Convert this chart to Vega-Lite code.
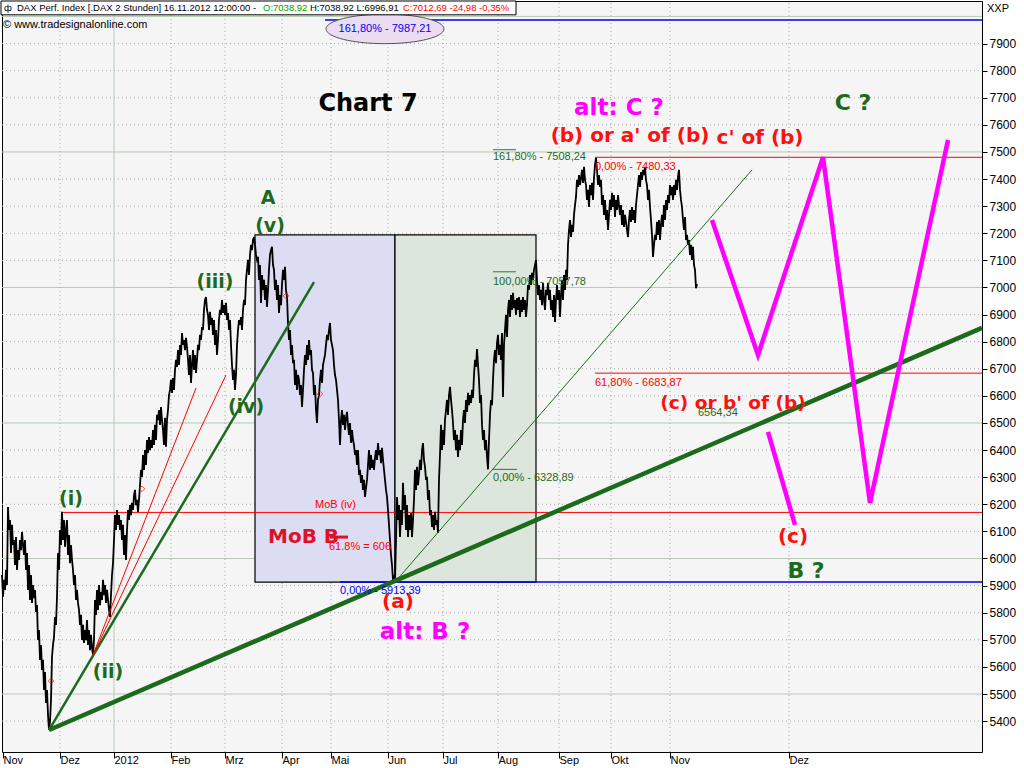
{
"$schema":"https://vega.github.io/schema/vega-lite/v6.json",
"width":980,"height":751,"autosize":{"type":"none"},
"padding":{"left":2,"top":1,"right":42,"bottom":16},
"background":"white",
"view":{"fill":"#f5f5f5","stroke":"black","strokeWidth":1},
"config":{"text":{"font":"Liberation Sans"}},
"datasets":{
"price":[{"i":2,"v":5939},{"i":3,"v":5858},{"i":4,"v":5921},{"i":5,"v":5884},{"i":6,"v":5958},{"i":7,"v":5902},{"i":8,"v":6190},{"i":9,"v":6105},{"i":10,"v":6142},{"i":11,"v":6020},{"i":12,"v":6124},{"i":13,"v":6050},{"i":14,"v":6068},{"i":15,"v":5976},{"i":16,"v":6079},{"i":17,"v":5958},{"i":18,"v":6031},{"i":19,"v":5995},{"i":20,"v":6068},{"i":21,"v":6031},{"i":22,"v":6098},{"i":23,"v":6050},{"i":24,"v":6013},{"i":25,"v":6068},{"i":26,"v":5958},{"i":27,"v":6020},{"i":28,"v":5884},{"i":29,"v":5976},{"i":30,"v":5847},{"i":31,"v":5939},{"i":32,"v":5836},{"i":33,"v":5902},{"i":34,"v":5854},{"i":35,"v":5884},{"i":36,"v":5803},{"i":37,"v":5828},{"i":38,"v":5699},{"i":39,"v":5736},{"i":40,"v":5626},{"i":41,"v":5681},{"i":42,"v":5589},{"i":43,"v":5626},{"i":44,"v":5515},{"i":45,"v":5581},{"i":46,"v":5467},{"i":47,"v":5515},{"i":48,"v":5423},{"i":49,"v":5367},{"i":50,"v":5397},{"i":51,"v":5478},{"i":52,"v":5637},{"i":53,"v":5681},{"i":54,"v":5710},{"i":55,"v":5784},{"i":56,"v":5755},{"i":57,"v":5858},{"i":58,"v":6020},{"i":59,"v":5958},{"i":60,"v":6105},{"i":61,"v":6050},{"i":62,"v":6172},{"i":63,"v":6068},{"i":64,"v":6142},{"i":65,"v":6043},{"i":66,"v":6105},{"i":67,"v":6142},{"i":68,"v":6013},{"i":69,"v":6087},{"i":70,"v":5983},{"i":71,"v":6050},{"i":72,"v":5995},{"i":73,"v":5958},{"i":74,"v":5902},{"i":75,"v":5939},{"i":76,"v":5847},{"i":77,"v":5884},{"i":78,"v":5836},{"i":79,"v":5810},{"i":80,"v":5755},{"i":81,"v":5792},{"i":82,"v":5699},{"i":83,"v":5755},{"i":84,"v":5688},{"i":85,"v":5736},{"i":86,"v":5699},{"i":87,"v":5773},{"i":88,"v":5681},{"i":89,"v":5736},{"i":90,"v":5662},{"i":91,"v":5718},{"i":92,"v":5670},{"i":93,"v":5644},{"i":94,"v":5699},{"i":95,"v":5847},{"i":96,"v":5792},{"i":97,"v":5884},{"i":98,"v":5810},{"i":99,"v":5902},{"i":100,"v":5828},{"i":101,"v":5876},{"i":102,"v":5847},{"i":103,"v":5921},{"i":104,"v":5865},{"i":105,"v":5902},{"i":106,"v":5836},{"i":107,"v":5884},{"i":108,"v":5847},{"i":109,"v":5810},{"i":110,"v":5784},{"i":111,"v":5865},{"i":112,"v":5939},{"i":113,"v":5983},{"i":114,"v":6068},{"i":115,"v":6160},{"i":116,"v":6105},{"i":117,"v":6179},{"i":118,"v":6124},{"i":119,"v":6160},{"i":120,"v":6105},{"i":121,"v":6142},{"i":122,"v":6068},{"i":123,"v":6124},{"i":124,"v":6013},{"i":125,"v":6087},{"i":126,"v":5995},{"i":127,"v":6105},{"i":128,"v":6179},{"i":129,"v":6142},{"i":130,"v":6197},
{"i":131,"v":6160},{"i":132,"v":6205},{"i":133,"v":6179},{"i":134,"v":6234},{"i":135,"v":6253},{"i":136,"v":6197},{"i":137,"v":6216},{"i":138,"v":6172},{"i":139,"v":6216},{"i":140,"v":6271},{"i":141,"v":6327},{"i":142,"v":6301},{"i":143,"v":6382},{"i":144,"v":6327},{"i":145,"v":6400},{"i":146,"v":6345},{"i":147,"v":6437},{"i":148,"v":6389},{"i":149,"v":6448},{"i":150,"v":6400},{"i":151,"v":6437},{"i":152,"v":6408},{"i":153,"v":6474},{"i":154,"v":6419},{"i":155,"v":6493},{"i":156,"v":6437},{"i":157,"v":6530},{"i":158,"v":6511},{"i":159,"v":6548},{"i":160,"v":6493},{"i":161,"v":6559},{"i":162,"v":6511},{"i":163,"v":6474},{"i":164,"v":6419},{"i":165,"v":6519},{"i":166,"v":6412},{"i":167,"v":6511},{"i":168,"v":6548},{"i":169,"v":6603},{"i":170,"v":6622},{"i":171,"v":6659},{"i":172,"v":6611},{"i":173,"v":6666},{"i":174,"v":6622},{"i":175,"v":6696},{"i":176,"v":6733},{"i":177,"v":6707},{"i":178,"v":6769},{"i":179,"v":6714},{"i":180,"v":6788},{"i":181,"v":6751},{"i":182,"v":6832},{"i":183,"v":6788},{"i":184,"v":6806},{"i":185,"v":6769},{"i":186,"v":6814},{"i":187,"v":6781},{"i":188,"v":6733},{"i":189,"v":6677},{"i":190,"v":6751},{"i":191,"v":6648},{"i":192,"v":6714},{"i":193,"v":6769},{"i":194,"v":6696},{"i":195,"v":6751},{"i":196,"v":6685},{"i":197,"v":6733},{"i":198,"v":6788},{"i":199,"v":6769},{"i":200,"v":6825},{"i":201,"v":6806},{"i":202,"v":6854},{"i":203,"v":6843},{"i":204,"v":6917},{"i":205,"v":6954},{"i":206,"v":6965},{"i":207,"v":6917},{"i":208,"v":6899},{"i":209,"v":6843},{"i":210,"v":6910},{"i":211,"v":6862},{"i":212,"v":6888},{"i":213,"v":6825},{"i":214,"v":6880},{"i":215,"v":6788},{"i":216,"v":6843},{"i":217,"v":6751},{"i":218,"v":6806},{"i":219,"v":6880},{"i":220,"v":6917},{"i":221,"v":6899},{"i":222,"v":6954},{"i":223,"v":6906},{"i":224,"v":6935},{"i":225,"v":6899},{"i":226,"v":6943},{"i":227,"v":6880},{"i":228,"v":6906},{"i":229,"v":6843},{"i":230,"v":6880},{"i":231,"v":6788},{"i":232,"v":6714},{"i":233,"v":6659},{"i":234,"v":6696},{"i":235,"v":6622},{"i":236,"v":6677},{"i":237,"v":6788},{"i":238,"v":6843},{"i":239,"v":6880},{"i":240,"v":6862},{"i":241,"v":6891},{"i":242,"v":6843},{"i":243,"v":6917},{"i":244,"v":6954},{"i":245,"v":6935},{"i":246,"v":7028},{"i":247,"v":7065},{"i":248,"v":7102},{"i":249,"v":7046},{"i":250,"v":7120},{"i":251,"v":7157},{"i":252,"v":7138},{"i":253,"v":7175},{"i":254,"v":7186},{"i":255,"v":7157},
{"i":256,"v":7120},{"i":257,"v":7102},{"i":258,"v":7113},{"i":259,"v":7028},{"i":260,"v":7083},{"i":261,"v":6943},{"i":262,"v":7046},{"i":263,"v":6991},{"i":264,"v":7028},{"i":265,"v":6954},{"i":266,"v":7009},{"i":267,"v":6928},{"i":268,"v":6991},{"i":269,"v":7065},{"i":270,"v":7120},{"i":271,"v":7138},{"i":272,"v":7150},{"i":273,"v":7083},{"i":274,"v":7065},{"i":275,"v":6991},{"i":276,"v":7028},{"i":277,"v":6954},{"i":278,"v":7009},{"i":279,"v":6906},{"i":280,"v":6972},{"i":281,"v":6935},{"i":282,"v":7009},{"i":283,"v":7065},{"i":284,"v":7028},{"i":285,"v":7076},{"i":286,"v":6991},{"i":287,"v":6965},{"i":288,"v":6869},{"i":289,"v":6806},{"i":290,"v":6843},{"i":291,"v":6751},{"i":292,"v":6788},{"i":293,"v":6721},{"i":294,"v":6733},{"i":295,"v":6640},{"i":296,"v":6696},{"i":297,"v":6622},{"i":298,"v":6677},{"i":299,"v":6659},{"i":300,"v":6603},{"i":301,"v":6640},{"i":302,"v":6559},{"i":303,"v":6622},{"i":304,"v":6696},{"i":305,"v":6751},{"i":306,"v":6714},{"i":307,"v":6788},{"i":308,"v":6733},{"i":309,"v":6806},{"i":310,"v":6751},{"i":311,"v":6769},{"i":312,"v":6696},{"i":313,"v":6685},{"i":314,"v":6603},{"i":315,"v":6640},{"i":316,"v":6548},{"i":317,"v":6500},{"i":318,"v":6585},{"i":319,"v":6603},{"i":320,"v":6659},{"i":321,"v":6696},{"i":322,"v":6648},{"i":323,"v":6714},{"i":324,"v":6733},{"i":325,"v":6751},{"i":326,"v":6788},{"i":327,"v":6825},{"i":328,"v":6806},{"i":329,"v":6843},{"i":330,"v":6869},{"i":331,"v":6806},{"i":332,"v":6788},{"i":333,"v":6769},{"i":334,"v":6714},{"i":335,"v":6677},{"i":336,"v":6659},{"i":337,"v":6622},{"i":338,"v":6585},{"i":339,"v":6511},{"i":340,"v":6419},{"i":341,"v":6511},{"i":342,"v":6548},{"i":343,"v":6493},{"i":344,"v":6530},{"i":345,"v":6474},{"i":346,"v":6519},{"i":347,"v":6541},{"i":348,"v":6493},{"i":349,"v":6456},{"i":350,"v":6500},{"i":351,"v":6426},{"i":352,"v":6474},{"i":353,"v":6437},{"i":354,"v":6419},{"i":355,"v":6382},{"i":356,"v":6400},{"i":357,"v":6345},{"i":358,"v":6400},{"i":359,"v":6308},{"i":360,"v":6327},{"i":361,"v":6279},{"i":362,"v":6308},{"i":363,"v":6253},{"i":364,"v":6290},{"i":365,"v":6227},{"i":366,"v":6260},{"i":367,"v":6290},{"i":368,"v":6345},{"i":369,"v":6400},{"i":370,"v":6327},{"i":371,"v":6382},{"i":372,"v":6334},{"i":373,"v":6364},{"i":374,"v":6327},{"i":375,"v":6371},{"i":376,"v":6400},{"i":377,"v":6364},{"i":378,"v":6426},{"i":379,"v":6382},{"i":380,"v":6400},{"i":381,"v":6352},{"i":382,"v":6408},{"i":383,"v":6364},{"i":384,"v":6327},{"i":385,"v":6290},{"i":386,"v":6253},{"i":387,"v":6227},{"i":388,"v":6179},{"i":389,"v":6124},{"i":390,"v":6068},{"i":391,"v":6013},{"i":392,"v":5976},{"i":393,"v":5921},{"i":394,"v":5939},{"i":395,"v":5913},
{"i":396,"v":6068},{"i":397,"v":6227},{"i":398,"v":6142},{"i":399,"v":6197},{"i":400,"v":6079},{"i":401,"v":6179},{"i":402,"v":6124},{"i":403,"v":6279},{"i":404,"v":6179},{"i":405,"v":6234},{"i":406,"v":6105},{"i":407,"v":6197},{"i":408,"v":6079},{"i":409,"v":6160},{"i":410,"v":6105},{"i":411,"v":6168},{"i":412,"v":6079},{"i":413,"v":6142},{"i":414,"v":6216},{"i":415,"v":6327},{"i":416,"v":6253},{"i":417,"v":6338},{"i":418,"v":6271},{"i":419,"v":6308},{"i":420,"v":6364},{"i":421,"v":6327},{"i":422,"v":6400},{"i":423,"v":6426},{"i":424,"v":6364},{"i":425,"v":6338},{"i":426,"v":6290},{"i":427,"v":6301},{"i":428,"v":6216},{"i":429,"v":6253},{"i":430,"v":6160},{"i":431,"v":6179},{"i":432,"v":6116},{"i":433,"v":6160},{"i":434,"v":6105},{"i":435,"v":6172},{"i":436,"v":6124},{"i":437,"v":6142},{"i":438,"v":6094},{"i":439,"v":6290},{"i":440,"v":6382},{"i":441,"v":6493},{"i":442,"v":6400},{"i":443,"v":6474},{"i":444,"v":6419},{"i":445,"v":6511},{"i":446,"v":6548},{"i":447,"v":6585},{"i":448,"v":6530},{"i":449,"v":6603},{"i":450,"v":6633},{"i":451,"v":6585},{"i":452,"v":6548},{"i":453,"v":6500},{"i":454,"v":6437},{"i":455,"v":6474},{"i":456,"v":6400},{"i":457,"v":6456},{"i":458,"v":6375},{"i":459,"v":6437},{"i":460,"v":6400},{"i":461,"v":6474},{"i":462,"v":6419},{"i":463,"v":6511},{"i":464,"v":6548},{"i":465,"v":6500},{"i":466,"v":6585},{"i":467,"v":6541},{"i":468,"v":6611},{"i":469,"v":6566},{"i":470,"v":6603},{"i":471,"v":6574},{"i":472,"v":6622},{"i":473,"v":6592},{"i":474,"v":6677},{"i":475,"v":6733},{"i":476,"v":6707},{"i":477,"v":6773},{"i":478,"v":6714},{"i":479,"v":6659},{"i":480,"v":6574},{"i":481,"v":6603},{"i":482,"v":6493},{"i":483,"v":6437},{"i":484,"v":6474},{"i":485,"v":6400},{"i":486,"v":6437},{"i":487,"v":6375},{"i":488,"v":6329},{"i":489,"v":6437},{"i":490,"v":6530},{"i":491,"v":6585},{"i":492,"v":6566},{"i":493,"v":6659},{"i":494,"v":6733},{"i":495,"v":6769},{"i":496,"v":6721},{"i":497,"v":6795},{"i":498,"v":6825},{"i":499,"v":6751},{"i":500,"v":6788},{"i":501,"v":6733},{"i":502,"v":6832},{"i":503,"v":6596},{"i":504,"v":6788},{"i":505,"v":6843},{"i":506,"v":6899},{"i":507,"v":6817},{"i":508,"v":6917},{"i":509,"v":6954},{"i":510,"v":6891},{"i":511,"v":6972},{"i":512,"v":6917},{"i":513,"v":6980},{"i":514,"v":6924},{"i":515,"v":6954},{"i":516,"v":6899},{"i":517,"v":6961},{"i":518,"v":6917},{"i":519,"v":6965},{"i":520,"v":6891},{"i":521,"v":6954},{"i":522,"v":6910},{"i":523,"v":6965},{"i":524,"v":6917},{"i":525,"v":6954},{"i":526,"v":6891},{"i":527,"v":6935},{"i":528,"v":7009},{"i":529,"v":6991},{"i":530,"v":7046},{"i":531,"v":7009},{"i":532,"v":7054},{"i":533,"v":7028},{"i":534,"v":7065},{"i":535,"v":7083},{"i":536,"v":7102},{"i":537,"v":7028},{"i":538,"v":6972},{"i":539,"v":7009},{"i":540,"v":6954},{"i":541,"v":6991},{"i":542,"v":6935},{"i":543,"v":7017},{"i":544,"v":6954},{"i":545,"v":6917},{"i":546,"v":6991},{"i":547,"v":6972},{"i":548,"v":7017},{"i":549,"v":6954},{"i":550,"v":6991},{"i":551,"v":6917},{"i":552,"v":6954},{"i":553,"v":6891},{"i":554,"v":6972},{"i":555,"v":6873},{"i":556,"v":6954},{"i":557,"v":7009},{"i":558,"v":6954},{"i":559,"v":6991},{"i":560,"v":6891},{"i":561,"v":6972},{"i":562,"v":7028},{"i":563,"v":6954},{"i":564,"v":7046},{"i":565,"v":6991},{"i":566,"v":7065},{"i":567,"v":7028},{"i":568,"v":7157},{"i":569,"v":7212},{"i":570,"v":7249},{"i":571,"v":7186},{"i":572,"v":7231},{"i":573,"v":7205},{"i":574,"v":7268},{"i":575,"v":7304},{"i":576,"v":7334},{"i":577,"v":7397},{"i":578,"v":7371},{"i":579,"v":7415},{"i":580,"v":7378},{"i":581,"v":7404},{"i":582,"v":7434},{"i":583,"v":7386},{"i":584,"v":7445},{"i":585,"v":7397},{"i":586,"v":7378},{"i":587,"v":7323},{"i":588,"v":7360},{"i":589,"v":7297},{"i":590,"v":7378},{"i":591,"v":7341},{"i":592,"v":7386},{"i":593,"v":7323},{"i":594,"v":7404},{"i":595,"v":7452},{"i":596,"v":7478},{"i":597,"v":7434},{"i":598,"v":7378},{"i":599,"v":7415},{"i":600,"v":7371},{"i":601,"v":7397},{"i":602,"v":7304},{"i":603,"v":7341},{"i":604,"v":7268},{"i":605,"v":7323},{"i":606,"v":7249},{"i":607,"v":7286},{"i":608,"v":7212},{"i":609,"v":7268},{"i":610,"v":7323},{"i":611,"v":7286},{"i":612,"v":7349},{"i":613,"v":7297},{"i":614,"v":7341},{"i":615,"v":7260},{"i":616,"v":7323},{"i":617,"v":7286},{"i":618,"v":7341},{"i":619,"v":7304},{"i":620,"v":7268},{"i":621,"v":7304},{"i":622,"v":7231},{"i":623,"v":7286},{"i":624,"v":7223},{"i":625,"v":7268},{"i":626,"v":7242},{"i":627,"v":7212},{"i":628,"v":7186},{"i":629,"v":7249},{"i":630,"v":7286},{"i":631,"v":7242},{"i":632,"v":7297},{"i":633,"v":7249},{"i":634,"v":7286},{"i":635,"v":7238},{"i":636,"v":7304},{"i":637,"v":7341},{"i":638,"v":7378},{"i":639,"v":7415},{"i":640,"v":7371},{"i":641,"v":7426},{"i":642,"v":7397},{"i":643,"v":7434},{"i":644,"v":7415},{"i":645,"v":7445},{"i":646,"v":7397},{"i":647,"v":7378},{"i":648,"v":7323},{"i":649,"v":7360},{"i":650,"v":7297},{"i":651,"v":7249},{"i":652,"v":7194},{"i":653,"v":7113},{"i":654,"v":7157},{"i":655,"v":7194},{"i":656,"v":7175},{"i":657,"v":7242},{"i":658,"v":7194},{"i":659,"v":7249},{"i":660,"v":7175},{"i":661,"v":7231},{"i":662,"v":7268},{"i":663,"v":7223},{"i":664,"v":7304},{"i":665,"v":7249},{"i":666,"v":7323},{"i":667,"v":7286},{"i":668,"v":7341},{"i":669,"v":7312},{"i":670,"v":7378},{"i":671,"v":7341},{"i":672,"v":7371},{"i":673,"v":7323},{"i":674,"v":7378},{"i":675,"v":7341},{"i":676,"v":7397},{"i":677,"v":7360},{"i":678,"v":7408},{"i":679,"v":7434},{"i":680,"v":7360},{"i":681,"v":7323},{"i":682,"v":7297},{"i":683,"v":7249},{"i":684,"v":7212},{"i":685,"v":7260},{"i":686,"v":7175},{"i":687,"v":7194},{"i":688,"v":7157},{"i":689,"v":7175},{"i":690,"v":7120},{"i":691,"v":7157},{"i":692,"v":7102},{"i":693,"v":7150},{"i":694,"v":7083},{"i":695,"v":7065},{"i":696,"v":6997},{"i":697,"v":7013}],
"hminor":[{"i":2,"i2":982,"v":5400},{"i":2,"i2":982,"v":5600},{"i":2,"i2":982,"v":5700},{"i":2,"i2":982,"v":5800},{"i":2,"i2":982,"v":5900},{"i":2,"i2":982,"v":6100},{"i":2,"i2":982,"v":6200},{"i":2,"i2":982,"v":6300},{"i":2,"i2":982,"v":6400},{"i":2,"i2":982,"v":6600},{"i":2,"i2":982,"v":6700},{"i":2,"i2":982,"v":6800},{"i":2,"i2":982,"v":6900},{"i":2,"i2":982,"v":7100},{"i":2,"i2":982,"v":7200},{"i":2,"i2":982,"v":7300},{"i":2,"i2":982,"v":7400},{"i":2,"i2":982,"v":7600},{"i":2,"i2":982,"v":7700},{"i":2,"i2":982,"v":7800},{"i":2,"i2":982,"v":7900}],
"hmajor":[{"i":2,"i2":982,"v":5500},{"i":2,"i2":982,"v":6000},{"i":2,"i2":982,"v":6500},{"i":2,"i2":982,"v":7000},{"i":2,"i2":982,"v":7500},{"i":2,"i2":982,"v":8000}],
"vminor":[{"i":60,"v":5286,"v2":8057},{"i":171,"v":5286,"v2":8057},{"i":225,"v":5286,"v2":8057},{"i":282,"v":5286,"v2":8057},{"i":331,"v":5286,"v2":8057},{"i":388,"v":5286,"v2":8057},{"i":443,"v":5286,"v2":8057},{"i":498,"v":5286,"v2":8057},{"i":559,"v":5286,"v2":8057},{"i":611,"v":5286,"v2":8057},{"i":670,"v":5286,"v2":8057},{"i":789,"v":5286,"v2":8057}],
"vmajor":[{"i":114,"v":5286,"v2":8057}],
"rectB":[{"i":255,"i2":395,"v":5913,"v2":7194}],
"rectG":[{"i":395,"i2":536,"v":5913,"v2":7194}],
"hred":[{"i":62,"i2":982,"v":6170},{"i":595,"i2":982,"v":7480.33},{"i":595,"i2":982,"v":6683.87}],
"hblue":[{"i":340,"i2":982,"v":5913.39},{"i":325,"i2":982,"v":7987.21}],
"mobline":[{"i":330,"i2":348,"v":6079}],
"fibg":[{"i":493,"i2":516,"v":7508.24},{"i":493,"i2":516,"v":7057.78},{"i":493,"i2":517,"v":6328.89}],
"trendThick":[{"i":49,"v":5367,"i2":982,"v2":6851}],
"trendMed":[{"i":49,"v":5367,"i2":314,"v2":7020}],
"trendThin":[{"i":395,"v":5913,"i2":752,"v2":7434}],
"trendRed":[{"i":93,"v":5644,"i2":196,"v2":6629},{"i":93,"v":5644,"i2":226,"v2":6677}],
"magenta":[{"s":1,"o":1,"i":712,"v":7249},{"s":1,"o":2,"i":758,"v":6751},{"s":1,"o":3,"i":823,"v":7481},{"s":1,"o":4,"i":870,"v":6205},{"s":1,"o":5,"i":948,"v":7544},{"s":2,"o":1,"i":768,"v":6467},{"s":2,"o":2,"i":795,"v":6124}],
"diamonds":[{"i":51,"v":5548},{"i":142,"v":6257},{"i":286,"v":6969},{"i":320,"v":6607}],
"tChart":[{"i":368,"v":7677,"t":"Chart 7"}],
"tGreen":[{"i":268,"v":7330,"t":"A"},{"i":270,"v":7227,"t":"(v)"},{"i":215,"v":7020,"t":"(iii)"},{"i":246,"v":6559,"t":"(iv)"},{"i":71,"v":6220,"t":"(i)"},{"i":108,"v":5581,"t":"(ii)"}],
"tGreenBig":[{"i":853,"v":7681,"t":"C ?"},{"i":806,"v":5954,"t":"B ?"}],
"tRed":[{"i":630,"v":7559,"t":"(b) or a' of (b)"},{"i":760,"v":7552,"t":"c' of (b)"},{"i":793,"v":6079,"t":"(c)"},{"i":398,"v":5840,"t":"(a)"}],
"tRed2":[{"i":733,"v":6574,"t":"(c) or b' of (b)"}],
"tMag":[{"i":619,"v":7662,"t":"alt: C ?"},{"i":425,"v":5729,"t":"alt: B ?"}],
"tMoB":[{"i":268,"v":6079,"t":"MoB B"}],
"tSmallGreen":[{"i":493,"v":7482,"t":"161,80% - 7508,24"},{"i":493,"v":7020,"t":"100,00% - 7057,78"},{"i":493,"v":6297,"t":"0,00% - 6328,89"},{"i":698,"v":6537,"t":"6564,34"}],
"tSmallRed":[{"i":595,"v":7445,"t":"0,00% - 7480,33"},{"i":595,"v":6648,"t":"61,80% - 6683,87"},{"i":315,"v":6197,"t":"MoB (iv)"},{"i":329,"v":6042,"t":"61.8% = 606"}],
"tSmallBlue":[{"i":340,"v":5880,"t":"0,00% - 5913,39"}],
"ellipse":[{"i":385,"v":7954,"t":"161,80% - 7987,21"}],
"hdrBox":[{"i":1,"i2":516,"v":8006,"v2":8057}],
"hdrBlack":[{"i":4,"v":8031,"t":"ф"},{"i":17,"v":8031,"t":"DAX Perf. Index [.DAX  2 Stunden] 16.11.2012 12:00:00 -"},{"i":310,"v":8031,"t":"H:7038,92 L:6996,91"}],
"hdrBlack2":[{"i":3,"v":7969,"t":"© www.tradesignalonline.com"},{"i":987,"v":8028,"t":"XXP"}],
"hdrGreen":[{"i":263,"v":8031,"t":"O:7038,92"}],
"hdrRed":[{"i":403,"v":8031,"t":"C:7012,69 -24,98 -0,35%"}]
},
"encoding":{
 "x":{"field":"i","type":"quantitative","scale":{"domain":[2,982],"nice":false,"zero":false},
   "axis":{"title":null,"grid":false,"domain":false,"values":[3,60,114,171,225,282,331,388,443,498,559,611,670,789],
   "labelExpr":"['Nov','Dez','2012','Feb','Mrz','Apr','Mai','Jun','Jul','Aug','Sep','Okt','Nov','Dez'][indexof([3,60,114,171,225,282,331,388,443,498,559,611,670,789], datum.value)]",
   "tickSize":6,"tickColor":"black","labelAlign":"left","labelBaseline":"top","labelPadding":-4,"labelDx":2,"labelFont":"Liberation Sans","labelFontSize":11,"labelColor":"black","labelOverlap":false,"labelFlush":false,"labelBound":false}},
 "y":{"field":"v","type":"quantitative","scale":{"domain":[5286,8057],"nice":false,"zero":false},
   "axis":{"orient":"right","title":null,"grid":false,"domain":false,"format":"d","values":[5400,5500,5600,5700,5800,5900,6000,6100,6200,6300,6400,6500,6600,6700,6800,6900,7000,7100,7200,7300,7400,7500,7600,7700,7800,7900],
   "tickSize":5,"tickColor":"black","labelPadding":2,"labelFont":"Liberation Sans","labelFontSize":12,"labelColor":"black","labelOverlap":false,"labelFlush":false,"labelBound":false}}
},
"layer":[
{"data":{"name":"hminor"},"mark":{"type":"rule","color":"#a9a9a9","strokeDash":[1,3],"strokeWidth":1},"encoding":{"x2":{"field":"i2"}}},
{"data":{"name":"hmajor"},"mark":{"type":"rule","color":"#b6cab6","strokeWidth":1},"encoding":{"x2":{"field":"i2"}}},
{"data":{"name":"vminor"},"mark":{"type":"rule","color":"#a9a9a9","strokeDash":[1,3],"strokeWidth":1},"encoding":{"y2":{"field":"v2"}}},
{"data":{"name":"vmajor"},"mark":{"type":"rule","color":"#b6cab6","strokeWidth":1},"encoding":{"y2":{"field":"v2"}}},
{"data":{"name":"rectB"},"mark":{"type":"rect","fill":"#dcdcf2","stroke":"black","strokeWidth":1.2},"encoding":{"x2":{"field":"i2"},"y2":{"field":"v2"}}},
{"data":{"name":"rectG"},"mark":{"type":"rect","fill":"#dde6dd","stroke":"black","strokeWidth":1.2},"encoding":{"x2":{"field":"i2"},"y2":{"field":"v2"}}},
{"data":{"name":"hred"},"mark":{"type":"rule","color":"#ff0000","strokeWidth":1},"encoding":{"x2":{"field":"i2"}}},
{"data":{"name":"hblue"},"mark":{"type":"rule","color":"#0000ee","strokeWidth":1.5},"encoding":{"x2":{"field":"i2"}}},
{"data":{"name":"fibg"},"mark":{"type":"rule","color":"#2a7a2a","strokeWidth":1},"encoding":{"x2":{"field":"i2"}}},
{"data":{"name":"price"},"mark":{"type":"line","color":"black","strokeWidth":1.8}},
{"data":{"name":"trendThick"},"mark":{"type":"rule","color":"#1c6b1c","strokeWidth":4.5},"encoding":{"x2":{"field":"i2"},"y2":{"field":"v2"}}},
{"data":{"name":"trendMed"},"mark":{"type":"rule","color":"#1c6b1c","strokeWidth":2.5},"encoding":{"x2":{"field":"i2"},"y2":{"field":"v2"}}},
{"data":{"name":"trendThin"},"mark":{"type":"rule","color":"#1c6b1c","strokeWidth":1},"encoding":{"x2":{"field":"i2"},"y2":{"field":"v2"}}},
{"data":{"name":"trendRed"},"mark":{"type":"rule","color":"#ff0000","strokeWidth":1},"encoding":{"x2":{"field":"i2"},"y2":{"field":"v2"}}},
{"data":{"name":"mobline"},"mark":{"type":"rule","color":"#e0102a","strokeWidth":3},"encoding":{"x2":{"field":"i2"}}},
{"data":{"name":"magenta"},"mark":{"type":"line","color":"#ff00ff","strokeWidth":4.5,"strokeCap":"butt"},
 "encoding":{"detail":{"field":"s","type":"nominal"},"order":{"field":"o","type":"quantitative"}}},
{"data":{"name":"diamonds"},"mark":{"type":"point","shape":"diamond","filled":false,"color":"#ff0000","size":30,"strokeWidth":1}},
{"data":{"name":"tChart"},"mark":{"type":"text","font":"DejaVu Sans","fontWeight":"bold","fontSize":24,"color":"black","align":"center","baseline":"middle"},"encoding":{"text":{"field":"t"}}},
{"data":{"name":"tGreen"},"mark":{"type":"text","font":"DejaVu Sans","fontWeight":"bold","fontSize":19,"color":"#1c6b1c","align":"center","baseline":"middle"},"encoding":{"text":{"field":"t"}}},
{"data":{"name":"tGreenBig"},"mark":{"type":"text","font":"DejaVu Sans","fontWeight":"bold","fontSize":22,"color":"#1c6b1c","align":"center","baseline":"middle"},"encoding":{"text":{"field":"t"}}},
{"data":{"name":"tRed"},"mark":{"type":"text","font":"DejaVu Sans","fontWeight":"bold","fontSize":20,"color":"#ff1010","align":"center","baseline":"middle"},"encoding":{"text":{"field":"t"}}},
{"data":{"name":"tRed2"},"mark":{"type":"text","font":"DejaVu Sans","fontWeight":"bold","fontSize":18.5,"color":"#ff1010","align":"center","baseline":"middle"},"encoding":{"text":{"field":"t"}}},
{"data":{"name":"tMag"},"mark":{"type":"text","font":"DejaVu Sans","fontWeight":"bold","fontSize":23,"color":"#ff00ff","align":"center","baseline":"middle"},"encoding":{"text":{"field":"t"}}},
{"data":{"name":"tMoB"},"mark":{"type":"text","font":"DejaVu Sans","fontWeight":"bold","fontSize":20,"color":"#e0102a","align":"left","baseline":"middle"},"encoding":{"text":{"field":"t"}}},
{"data":{"name":"tSmallGreen"},"mark":{"type":"text","fontSize":11,"color":"#1c6b1c","align":"left","baseline":"middle"},"encoding":{"text":{"field":"t"}}},
{"data":{"name":"tSmallRed"},"mark":{"type":"text","fontSize":11,"color":"#ff0000","align":"left","baseline":"middle"},"encoding":{"text":{"field":"t"}}},
{"data":{"name":"tSmallBlue"},"mark":{"type":"text","fontSize":11,"color":"#0000ee","align":"left","baseline":"middle"},"encoding":{"text":{"field":"t"}}},
{"data":{"name":"ellipse"},"mark":{"type":"point","shape":"M -1 0 A 1 0.25 0 1 1 1 0 A 1 0.25 0 1 1 -1 0 Z","size":13924,"filled":true,"fill":"#ecdcf2","stroke":"#555555","strokeWidth":1,"opacity":1}},
{"data":{"name":"ellipse"},"mark":{"type":"text","fontSize":11,"color":"#0000ee","align":"center","baseline":"middle"},"encoding":{"text":{"field":"t"}}},
{"data":{"name":"hdrBox"},"mark":{"type":"rect","fill":"white","stroke":"black","strokeWidth":1},"encoding":{"x2":{"field":"i2"},"y2":{"field":"v2"}}},
{"data":{"name":"hdrBlack"},"mark":{"type":"text","fontSize":9.5,"color":"black","align":"left","baseline":"middle"},"encoding":{"text":{"field":"t"}}},
{"data":{"name":"hdrBlack2"},"mark":{"type":"text","fontSize":11,"color":"black","align":"left","baseline":"middle"},"encoding":{"text":{"field":"t"}}},
{"data":{"name":"hdrGreen"},"mark":{"type":"text","fontSize":9.5,"color":"#00a000","align":"left","baseline":"middle"},"encoding":{"text":{"field":"t"}}},
{"data":{"name":"hdrRed"},"mark":{"type":"text","fontSize":9.5,"color":"#ff0000","align":"left","baseline":"middle"},"encoding":{"text":{"field":"t"}}}
]
}
